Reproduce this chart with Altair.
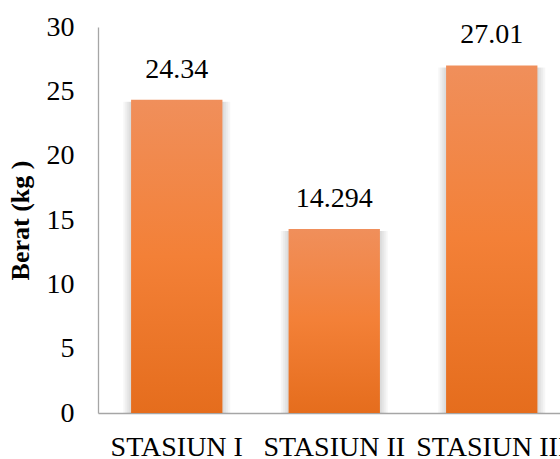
import altair as alt
import pandas as pd

# Weight per station (kg)
stations = ["STASIUN I", "STASIUN II", "STASIUN III"]
weights = [24.34, 14.294, 27.01]
value_labels = ["24.34", "14.294", "27.01"]
y_ticks = [0, 5, 10, 15, 20, 25, 30]

df = pd.DataFrame({"station": stations, "weight": weights, "label": value_labels})

FONT = "Times New Roman, Liberation Serif, serif"
AXIS_GREY = "#a6a6a6"
TEXT_SIZE = 28

x_enc = alt.X(
    "station:N",
    sort=stations,
    scale=alt.Scale(range=[0, 472.5], paddingInner=0.42, paddingOuter=0.21),
    axis=alt.Axis(
        title=None,
        labelAngle=0,
        labelFont=FONT,
        labelFontSize=TEXT_SIZE,
        labelColor="black",
        labelPadding=20,
        labelOverlap=False,
        labelLimit=400,
        ticks=False,
        domainColor=AXIS_GREY,
        domainWidth=1.3,
    ),
)

y_enc = alt.Y(
    "weight:Q",
    scale=alt.Scale(domain=[0, 30], nice=False),
    axis=alt.Axis(
        title="Berat (kg )",
        titleFont=FONT,
        titleFontSize=26,
        titleFontWeight="bold",
        titleColor="black",
        titlePadding=13,
        values=y_ticks,
        labelFont=FONT,
        labelFontSize=TEXT_SIZE,
        labelColor="black",
        labelPadding=24,
        ticks=False,
        grid=False,
        domainColor=AXIS_GREY,
        domainWidth=1.3,
    ),
)

base = alt.Chart(df).encode(x=x_enc)

# soft shadow around each bar: a few faint, progressively wider rectangles
shadows = [
    base.mark_bar(width=w, color="black", opacity=0.035, yOffset=2).encode(
        y=y_enc, y2=alt.datum(0)
    )
    for w in (95, 99, 103, 107)
]

bars = base.mark_bar(
    width={"band": 1},
    color=alt.Gradient(
        gradient="linear",
        x1=0, x2=0, y1=0, y2=1,
        stops=[
            alt.GradientStop(color="#f08f5b", offset=0),
            alt.GradientStop(color="#f38037", offset=0.5),
            alt.GradientStop(color="#e56d1d", offset=1),
        ],
    ),
).encode(y=y_enc, y2=alt.datum(0))

texts = base.mark_text(
    font=FONT, fontSize=TEXT_SIZE, color="black", baseline="alphabetic", dy=-22
).encode(y="weight:Q", text="label:N")

chart = (
    alt.layer(*shadows, bars, texts)
    .properties(
        width=462,
        height=386,
        autosize=alt.AutoSizeParams(type="none"),
        padding={"left": 98, "top": 27, "right": 0, "bottom": 46},
        background="white",
    )
    .configure_view(stroke=None)
)

chart.save("out.html", embed_options={"renderer": "svg", "actions": False})
